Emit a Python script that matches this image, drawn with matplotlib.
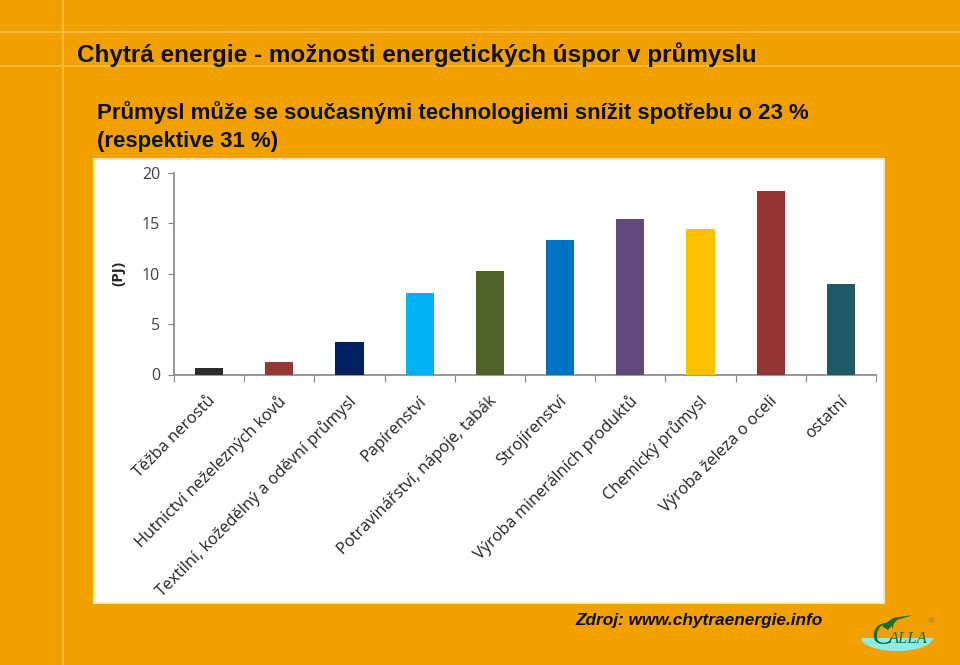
import matplotlib
matplotlib.use("Agg")
import matplotlib.pyplot as plt
from matplotlib.patches import Rectangle, Ellipse, Polygon
from matplotlib.lines import Line2D

categories = ["Těžba nerostů", "Hutnictví neželezných kovů", "Textilní, kožedělný a oděvní průmysl",
              "Papírenství", "Potravinářství, nápoje, tabák", "Strojírenství",
              "Výroba minerálních produktů", "Chemický průmysl", "Výroba železa o oceli", "ostatní"]
values = [0.6, 1.2, 3.2, 8.1, 10.3, 13.3, 15.4, 14.4, 18.2, 9.0]
colors = ["#2b2b2b", "#953735", "#002060", "#00B0F0", "#4F6228", "#0070C0",
          "#604A7B", "#FFC000", "#943634", "#215868"]
yticks = [0, 5, 10, 15, 20]
title = "Chytrá energie - možnosti energetických úspor v průmyslu"
subtitle_lines = ["Průmysl může se současnými technologiemi snížit spotřebu o 23 %", "(respektive 31 %)"]
ylabel = "(PJ)"
source = "Zdroj: www.chytraenergie.info"

W, H = 960, 665
fig = plt.figure(figsize=(W / 100, H / 100), dpi=100)
bg = "#F0A000"
fig.patch.set_facecolor(bg)

def fx(px):
    return px / W

def fy(py):
    return 1 - py / H

# faint guide lines of the slide
line_col = "#F6C24A"
fig.add_artist(Line2D([0, 1], [fy(32), fy(32)], color=line_col, lw=1.2))
fig.add_artist(Line2D([0, 1], [fy(66), fy(66)], color=line_col, lw=1.2))
fig.add_artist(Line2D([fx(63), fx(63)], [0, 1], color=line_col, lw=1.2))

# white chart panel
fig.add_artist(Rectangle((fx(94), fy(603)), fx(884) - fx(94), fy(159) - fy(603),
                         facecolor="white", edgecolor="#FBE9B8", lw=1.5, zorder=1))

fig.text(fx(77), fy(55), title, fontsize=17.5, fontweight="bold", family="Liberation Sans",
         color="#111111", va="center", ha="left")
for k, ln in enumerate(subtitle_lines):
    fig.text(fx(97), fy(113 + 28 * k), ln, fontsize=16, fontweight="bold", family="Liberation Sans",
             color="#111111", va="center", ha="left")

ax = fig.add_axes([fx(174), fy(374.5), fx(876) - fx(174), fy(172.7) - fy(374.5)])
ax.set_zorder(2)
ax.patch.set_alpha(0)
x = list(range(len(categories)))
ax.bar(x, values, width=0.4, color=colors, zorder=3)
ax.set_xlim(-0.5, len(categories) - 0.5)
ax.set_ylim(0, 20)
ax.set_yticks(yticks)
ax.set_yticklabels([str(v) for v in yticks], fontsize=11.5, family="Open Sans", color="#404040")
ax.tick_params(axis="y", length=4, color="#868686", pad=6)
ax.set_xticks([i + 0.5 for i in range(-1, len(categories))])
ax.set_xticklabels([])
ax.tick_params(axis="x", length=5, color="#868686")
for s in ["top", "right"]:
    ax.spines[s].set_visible(False)
for s in ["left", "bottom"]:
    ax.spines[s].set_color("#868686")
    ax.spines[s].set_linewidth(1.2)
ax.set_ylabel(ylabel, fontsize=11, fontweight="bold", family="Open Sans", color="#222222", labelpad=12)

for i, c in enumerate(categories):
    ax.text(i + 0.06, -2.4, c, rotation=45, rotation_mode="anchor", ha="right", va="center",
            fontsize=11.8, family="Open Sans", color="#222222", transform=ax.transData, clip_on=False)

fig.text(fx(575), fy(621), source, fontsize=12.4, fontweight="bold", fontstyle="italic",
         family="Liberation Sans", color="#111111", va="center", ha="left")

# simple logo: cyan half-ellipse, green swoosh and "CALLA" lettering
logo_ax = fig.add_axes([fx(850), fy(660), fx(110), fy(605) - fy(660)])
logo_ax.set_xlim(850, 960)
logo_ax.set_ylim(660, 605)
logo_ax.axis("off")
half = Ellipse((897, 638), 72, 26, facecolor="#8FEBE6", edgecolor="none")
logo_ax.add_patch(half)
half.set_clip_path(Rectangle((850, 638), 110, 30, transform=logo_ax.transData))
logo_ax.add_patch(Polygon([(882, 626), (893, 618), (913, 615), (897, 620), (888, 630)],
                          closed=True, facecolor="#1E6B2E", edgecolor="none"))
logo_ax.text(871, 636, "C", fontsize=23, family="Liberation Serif", fontstyle="italic",
             color="#1E6B2E", ha="left", va="center")
logo_ax.text(889, 639, "ALLA", fontsize=12, family="Liberation Serif", fontstyle="italic",
             color="#1E6B2E", ha="left", va="center")
logo_ax.text(932, 621, "®", fontsize=5, color="#777777", ha="center", va="center")

fig.savefig("out.png", dpi=100, facecolor=bg)
